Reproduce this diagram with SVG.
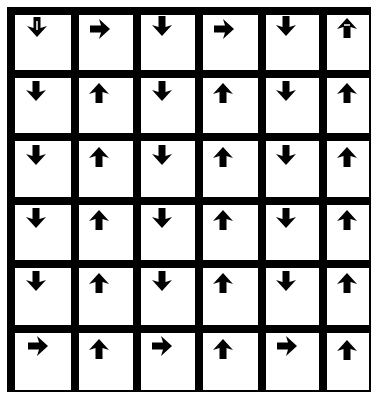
<svg xmlns="http://www.w3.org/2000/svg" xmlns:xlink="http://www.w3.org/1999/xlink" width="376" height="394" viewBox="0 0 376 394">
<style>
.cell{fill:#fff}
.arr{fill:#000}
</style>
<defs>
<path id="up" class="arr" d="M0,-10 L10,1 L3.5,-1 L3.5,10 L-3.5,10 L-3.5,-1 L-10,1 Z"/>
</defs>
<rect x="0" y="0" width="376" height="394" fill="#fff"/>
<rect x="7" y="7" width="364" height="385" fill="#000"/>
<g id="r1c1"><rect class="cell" x="15" y="15" width="56" height="55"/><use xlink:href="#up" transform="translate(37,27) rotate(180)"/><path d="M37,21 L37,30" stroke="#fff" stroke-width="1.5"/></g>
<g id="r1c2"><rect class="cell" x="79" y="15" width="54" height="55"/><use xlink:href="#up" transform="translate(100,29) rotate(90)"/></g>
<g id="r1c3"><rect class="cell" x="141" y="15" width="54" height="55"/><use xlink:href="#up" transform="translate(162,26) rotate(180)"/></g>
<g id="r1c4"><rect class="cell" x="203" y="15" width="55" height="55"/><use xlink:href="#up" transform="translate(224,29) rotate(90)"/></g>
<g id="r1c5"><rect class="cell" x="266" y="15" width="53" height="55"/><use xlink:href="#up" transform="translate(286,26) rotate(180)"/></g>
<g id="r1c6"><rect class="cell" x="327" y="15" width="42" height="55"/><use xlink:href="#up" transform="translate(347,28)"/><path d="M344,25 L350,25" stroke="#fff" stroke-width="1.5"/></g>

<g id="r2c1"><rect class="cell" x="15" y="78" width="56" height="55"/><use xlink:href="#up" transform="translate(36,91) rotate(180)"/></g>
<g id="r2c2"><rect class="cell" x="79" y="78" width="54" height="55"/><use xlink:href="#up" transform="translate(99,93)"/></g>
<g id="r2c3"><rect class="cell" x="141" y="78" width="54" height="55"/><use xlink:href="#up" transform="translate(162,91) rotate(180)"/></g>
<g id="r2c4"><rect class="cell" x="203" y="78" width="55" height="55"/><use xlink:href="#up" transform="translate(223,93)"/></g>
<g id="r2c5"><rect class="cell" x="266" y="78" width="53" height="55"/><use xlink:href="#up" transform="translate(286,91) rotate(180)"/></g>
<g id="r2c6"><rect class="cell" x="327" y="78" width="42" height="55"/><use xlink:href="#up" transform="translate(347,93)"/></g>

<g id="r3c1"><rect class="cell" x="15" y="141" width="56" height="56"/><use xlink:href="#up" transform="translate(36,155) rotate(180)"/></g>
<g id="r3c2"><rect class="cell" x="79" y="141" width="54" height="56"/><use xlink:href="#up" transform="translate(99,157)"/></g>
<g id="r3c3"><rect class="cell" x="141" y="141" width="54" height="56"/><use xlink:href="#up" transform="translate(162,155) rotate(180)"/></g>
<g id="r3c4"><rect class="cell" x="203" y="141" width="55" height="56"/><use xlink:href="#up" transform="translate(223,157)"/></g>
<g id="r3c5"><rect class="cell" x="266" y="141" width="53" height="56"/><use xlink:href="#up" transform="translate(286,155) rotate(180)"/></g>
<g id="r3c6"><rect class="cell" x="327" y="141" width="42" height="56"/><use xlink:href="#up" transform="translate(347,157)"/></g>

<g id="r4c1"><rect class="cell" x="15" y="205" width="56" height="55"/><use xlink:href="#up" transform="translate(36,218) rotate(180)"/></g>
<g id="r4c2"><rect class="cell" x="79" y="205" width="54" height="55"/><use xlink:href="#up" transform="translate(99,220)"/></g>
<g id="r4c3"><rect class="cell" x="141" y="205" width="54" height="55"/><use xlink:href="#up" transform="translate(162,218) rotate(180)"/></g>
<g id="r4c4"><rect class="cell" x="203" y="205" width="55" height="55"/><use xlink:href="#up" transform="translate(223,220)"/></g>
<g id="r4c5"><rect class="cell" x="266" y="205" width="53" height="55"/><use xlink:href="#up" transform="translate(286,218) rotate(180)"/></g>
<g id="r4c6"><rect class="cell" x="327" y="205" width="42" height="55"/><use xlink:href="#up" transform="translate(347,220)"/></g>

<g id="r5c1"><rect class="cell" x="15" y="268" width="56" height="57"/><use xlink:href="#up" transform="translate(36,281) rotate(180)"/></g>
<g id="r5c2"><rect class="cell" x="79" y="268" width="54" height="57"/><use xlink:href="#up" transform="translate(99,283)"/></g>
<g id="r5c3"><rect class="cell" x="141" y="268" width="54" height="57"/><use xlink:href="#up" transform="translate(162,281) rotate(180)"/></g>
<g id="r5c4"><rect class="cell" x="203" y="268" width="55" height="57"/><use xlink:href="#up" transform="translate(223,283)"/></g>
<g id="r5c5"><rect class="cell" x="266" y="268" width="53" height="57"/><use xlink:href="#up" transform="translate(286,281) rotate(180)"/></g>
<g id="r5c6"><rect class="cell" x="327" y="268" width="42" height="57"/><use xlink:href="#up" transform="translate(347,283)"/></g>

<g id="r6c1"><rect class="cell" x="15" y="333" width="56" height="57"/><use xlink:href="#up" transform="translate(38,346) rotate(90)"/></g>
<g id="r6c2"><rect class="cell" x="79" y="333" width="54" height="57"/><use xlink:href="#up" transform="translate(99,349)"/></g>
<g id="r6c3"><rect class="cell" x="141" y="333" width="54" height="57"/><use xlink:href="#up" transform="translate(162,346) rotate(90)"/></g>
<g id="r6c4"><rect class="cell" x="203" y="333" width="55" height="57"/><use xlink:href="#up" transform="translate(223,349)"/></g>
<g id="r6c5"><rect class="cell" x="266" y="333" width="53" height="57"/><use xlink:href="#up" transform="translate(287,346) rotate(90)"/></g>
<g id="r6c6"><rect class="cell" x="327" y="333" width="42" height="57"/><use xlink:href="#up" transform="translate(347,350)"/></g>
<g id="connectors"/>
</svg>
